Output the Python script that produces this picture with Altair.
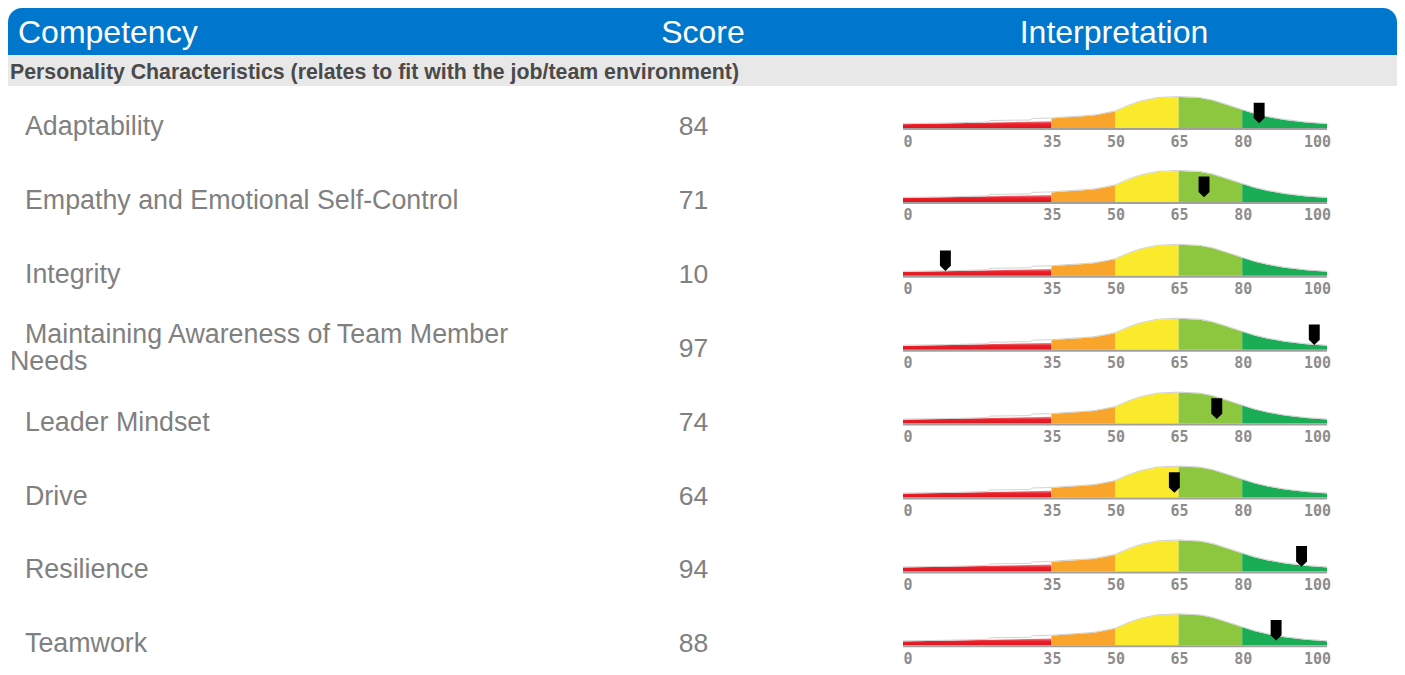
import altair as alt
import pandas as pd

# ---------------- data ----------------
HEADERS = ["Competency", "Score", "Interpretation"]
SECTION = "Personality Characteristics (relates to fit with the job/team environment)"
COMPETENCIES = [
    "Adaptability",
    "Empathy and Emotional Self-Control",
    "Integrity",
    "Maintaining Awareness of Team Member\nNeeds",
    "Leader Mindset",
    "Drive",
    "Resilience",
    "Teamwork",
]
SCORES = [84, 71, 10, 97, 74, 64, 94, 88]
TICKS = [0, 35, 50, 65, 80, 100]
BAND_EDGES = [35, 50, 65, 80, 100]
BAND_NAMES = ["orange", "yellow", "lightgreen", "green"]
BAND_COLORS = ["#f9a52b", "#fbe92b", "#8dc63f", "#1aad55"]
# bell-shaped outline of the gauge (x position on 0-100, height in px)
BELL_X = [0, 10, 20, 20.5, 30, 30.5, 35, 38, 42, 45, 47, 50, 53, 56, 60, 65, 70, 73, 76, 80, 83, 86, 90, 95, 100]
BELL_H = [4, 4.5, 5.5, 7, 7.5, 9, 9.5, 10.5, 11.5, 12.5, 14, 16.5, 22, 26.5, 30, 31, 30, 27.5, 23.5, 18, 14, 11, 8, 5.5, 4]
RED_X = [0, 35]
RED_H = [3.8, 6.8]

# ---------------- layout ----------------
W, H = 1389, 659
ROW0, ROW_STEP = 120.0, 73.9
GX0, GX1 = 895.0, 1319.0
PX = (GX1 - GX0) / 100.0
XSCALE = alt.Scale(domain=[-GX0 / PX, (W - GX0) / PX], nice=False, zero=False)
YSCALE = alt.Scale(domain=[0, H], reverse=True, nice=False, zero=False)
FONT = "Liberation Sans"
LINE_H = 27

rows, label_rec = [], []
for i, (name, s) in enumerate(zip(COMPETENCIES, SCORES)):
    base = ROW0 + i * ROW_STEP
    center = base - 1
    rows.append(dict(row=i, score=str(s), sv=s, base=base, center=center,
                     marker_y=base - 15, tick_y=base + 13.5, line_y=base + 1,
                     x0=0, x1=100))
    lines = name.split("\n")
    n = len(lines)
    for k, ln in enumerate(lines):
        label_rec.append(dict(row=i, t=ln, first=(k == 0),
                              y=center + (k - (n - 1) / 2) * LINE_H))
rows_df = pd.DataFrame(rows)
label_df = pd.DataFrame(label_rec)

area_rec, red_rec, bell_rec, tick_rec = [], [], [], []
for r in rows:
    for j, nm in enumerate(BAND_NAMES):
        lo, hi = BAND_EDGES[j], BAND_EDGES[j + 1]
        for x, h in zip(BELL_X, BELL_H):
            if lo <= x <= hi:
                area_rec.append(dict(row=r["row"], band=nm, x=x, top=r["base"] - h, bot=r["base"]))
    for x, h in zip(RED_X, RED_H):
        red_rec.append(dict(row=r["row"], x=x, top=r["base"] - h, bot=r["base"]))
    for x, h in zip(BELL_X, BELL_H):
        bell_rec.append(dict(row=r["row"], x=x, top=r["base"] - h - 0.5))
    for t in TICKS:
        tick_rec.append(dict(row=r["row"], x=t, y=r["tick_y"], t=str(t)))
area_df = pd.DataFrame(area_rec)
red_df = pd.DataFrame(red_rec)
bell_df = pd.DataFrame(bell_rec)
tick_df = pd.DataFrame(tick_rec)

one = pd.DataFrame({"a": [0]})

header = alt.Chart(one).mark_rect(color="#0077cc", cornerRadiusTopLeft=14,
                                  cornerRadiusTopRight=14).encode(
    x=alt.value(0), x2=alt.value(W), y=alt.value(0), y2=alt.value(47))
band = alt.Chart(one).mark_rect(color="#e8e8e8").encode(
    x=alt.value(0), x2=alt.value(W), y=alt.value(47), y2=alt.value(78))

def htext(txt, x, align):
    return alt.Chart(pd.DataFrame({"t": [txt]})).mark_text(
        font=FONT, fontSize=32, color="white", align=align, baseline="middle").encode(
        text="t:N", x=alt.value(x), y=alt.value(25))

h1 = htext(HEADERS[0], 10, "left")
h2 = htext(HEADERS[1], 695, "center")
h3 = htext(HEADERS[2], 1106, "center")
sect = alt.Chart(pd.DataFrame({"t": [SECTION]})).mark_text(
    font=FONT, fontSize=21.3, fontWeight="bold", color="#4a4a4a", align="left",
    baseline="middle").encode(text="t:N", x=alt.value(2), y=alt.value(65))

def label_layer(first, x):
    return alt.Chart(label_df).transform_filter(alt.datum.first == first).mark_text(
        font=FONT, fontSize=26.8, color="#808080", align="left", baseline="middle").encode(
        text="t:N", x=alt.value(x), y=alt.Y("y:Q", scale=YSCALE, axis=None))

labels1 = label_layer(True, 17)
labels2 = label_layer(False, 2)
scores = alt.Chart(rows_df).mark_text(
    font=FONT, fontSize=26.5, color="#808080", align="center", baseline="middle").encode(
    text="score:N", x=alt.value(685.5), y=alt.Y("center:Q", scale=YSCALE, axis=None))

red = alt.Chart(red_df).mark_area(
    color=alt.Gradient(gradient="linear", x1=0, x2=0, y1=0, y2=1,
                       stops=[alt.GradientStop(color="#f58a8e", offset=0),
                              alt.GradientStop(color="#ec1f2a", offset=0.4),
                              alt.GradientStop(color="#de1620", offset=1)])).encode(
    x=alt.X("x:Q", scale=XSCALE, axis=None),
    y=alt.Y("top:Q", scale=YSCALE, axis=None, stack=False),
    y2="bot:Q", detail="row:N")

bands = alt.Chart(area_df).mark_area(opacity=1).encode(
    x=alt.X("x:Q", scale=XSCALE, axis=None),
    y=alt.Y("top:Q", scale=YSCALE, axis=None, stack=False),
    y2="bot:Q",
    color=alt.Color("band:N", scale=alt.Scale(domain=BAND_NAMES, range=BAND_COLORS), legend=None),
    detail="row:N")

outline = alt.Chart(bell_df).mark_line(color="#d2d2d2", strokeWidth=1).encode(
    x=alt.X("x:Q", scale=XSCALE, axis=None),
    y=alt.Y("top:Q", scale=YSCALE, axis=None),
    detail="row:N")

baseline = alt.Chart(rows_df).mark_rule(color="#a0a0a0", strokeWidth=2).encode(
    x=alt.X("x0:Q", scale=XSCALE, axis=None), x2="x1:Q",
    y=alt.Y("line_y:Q", scale=YSCALE, axis=None))

def ticks(filt, align, dx):
    return alt.Chart(tick_df).transform_filter(filt).mark_text(
        font="DejaVu Sans Mono", fontSize=15, fontWeight="bold", color="#8c8c8c",
        align=align, baseline="middle", dx=dx).encode(
        text="t:N", x=alt.X("x:Q", scale=XSCALE, axis=None),
        y=alt.Y("y:Q", scale=YSCALE, axis=None))

t_lo = ticks(alt.datum.x == 0, "left", 0.5)
t_mid = ticks((alt.datum.x > 0) & (alt.datum.x < 100), "center", 1)
t_hi = ticks(alt.datum.x == 100, "right", 4)

MARKER = "M-0.53,-1 L0.53,-1 L0.53,0.49 L0,1 L-0.53,0.49 Z"
marker = alt.Chart(rows_df).mark_point(
    shape=MARKER, filled=True, color="black", opacity=1, size=424, strokeWidth=0).encode(
    x=alt.X("sv:Q", scale=XSCALE, axis=None),
    y=alt.Y("marker_y:Q", scale=YSCALE, axis=None))

chart = alt.layer(header, band, h1, h2, h3, sect, labels1, labels2, scores, red, bands,
                  outline, baseline, t_lo, t_mid, t_hi, marker).properties(
    width=W, height=H, padding=0, autosize="none", background="white"
).configure_view(stroke="transparent")

chart.save("out.html", embed_options={"renderer": "svg", "actions": False})
